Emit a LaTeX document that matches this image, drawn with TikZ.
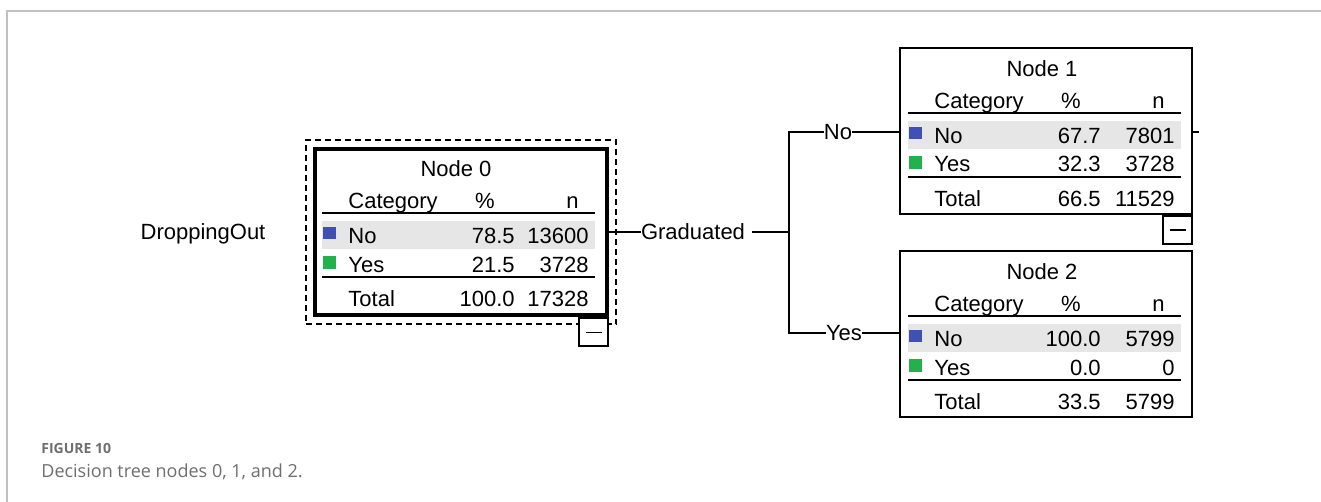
\documentclass[tikz,border=0pt]{standalone}
\usepackage{fontspec}
\setmainfont{Liberation Sans}
\newfontfamily\capfont{Open Sans}
\usetikzlibrary{positioning,fit}

\definecolor{noblue}{RGB}{63,81,181}
\definecolor{yesgreen}{RGB}{34,177,76}
\definecolor{rowgray}{RGB}{230,230,230}
\definecolor{framegray}{RGB}{192,192,192}
\definecolor{captiongray}{RGB}{110,110,110}

% one tree node: id, position, No %, No n, Yes %, Yes n, Total %, Total n, box style
\newcommand{\nodetable}[9]{%
  \node[tbox, #9] (n#1) at (#2) {};
  \begin{scope}[shift={(n#1.north west)}]
    \fill[rowgray] (9,74) rectangle (282,102);
    \fill[noblue] (10,80) rectangle (23,92);
    \fill[yesgreen] (10,109) rectangle (23,122);
    \draw[rule] (9,66) -- (282,66);
    \draw[rule] (9,130) -- (282,130);
    \node[txt, anchor=base] (n#1-title) at (143,29.5) {Node #1};
    \node[txt, anchor=base west] (n#1-cat) at (35,61.5) {Category};
    \node[txt, anchor=base] (n#1-pct) at (172,61.5) {\%};
    \node[txt, anchor=base east] (n#1-n) at (266,61.5) {n};
    \node[txt, anchor=base west] (n#1-no) at (35,96.5) {No};
    \node[txt, anchor=base east] (n#1-nopct) at (202,96.5) {#3};
    \node[txt, anchor=base east] (n#1-non) at (276,96.5) {#4};
    \node[txt, anchor=base west] (n#1-yes) at (35,125) {Yes};
    \node[txt, anchor=base east] (n#1-yespct) at (202,125) {#5};
    \node[txt, anchor=base east] (n#1-yesn) at (276,125) {#6};
    \node[txt, anchor=base west] (n#1-tot) at (35,159.5) {Total};
    \node[txt, anchor=base east] (n#1-totpct) at (202,159.5) {#7};
    \node[txt, anchor=base east] (n#1-totn) at (276,159.5) {#8};
  \end{scope}}

\begin{document}
\begin{tikzpicture}[
  x=0.5pt, y=-0.5pt,
  txt/.style={inner sep=0pt, font=\fontsize{11}{13}\selectfont},
  tbox/.style={draw, line width=1pt, minimum width=146pt, minimum height=83pt,
    anchor=north west, inner sep=0pt},
  rootbox/.style={line width=2.2pt},
  selbox/.style={draw, dash pattern=on 3pt off 2pt, line width=1pt, inner sep=3.5pt},
  minusbox/.style={draw, fill=white, line width=1pt, minimum width=14.5pt,
    minimum height=14pt, inner sep=0pt, anchor=north east},
  rule/.style={line width=1pt},
  wire/.style={line width=1pt},
  frame/.style={draw=framegray, line width=1pt},
]
  \useasboundingbox (0,0) rectangle (1321,502);
  \draw[frame] (6,11) -- (1321,11);
  \draw[frame] (7,11) -- (7,502);

  \nodetable{0}{313,147}{78.5}{13600}{21.5}{3728}{100.0}{17328}{rootbox}
  \nodetable{1}{899,47}{67.7}{7801}{32.3}{3728}{66.5}{11529}{}
  \nodetable{2}{899,250}{100.0}{5799}{0.0}{0}{33.5}{5799}{}

  \node[selbox, fit=(n0)] (sel) {};
  \node[minusbox] (m0) at (n0.south east) {\rule{8pt}{0.9pt}};
  \node[minusbox] (m1) at (n1.south east) {\rule{8pt}{0.9pt}};

  \node[txt, anchor=base] (target) at (203,240) {DroppingOut};
  \node[txt] (gradlbl) at (693,232) {Graduated};
  \node[txt] (nolbl) at (838,132) {No};
  \node[txt] (yeslbl) at (844,333) {Yes};
  \coordinate (split) at (789,232);

  \draw[wire] (n0.east |- gradlbl) -- (gradlbl.west);
  \draw[wire] ([xshift=3.5pt]gradlbl.east) -- (split);
  \draw[wire] (nolbl.west) -| (split) |- (yeslbl.west);
  \draw[wire] (nolbl.east) -- (n1.west |- nolbl);
  \draw[wire] (yeslbl.east) -- (n2.west |- yeslbl);
  \draw[wire] (n1.east |- nolbl) -- ++(3pt,0);

  \node[anchor=base west, inner sep=0pt, text=captiongray,
    font=\capfont\bfseries\fontsize{7}{9}\selectfont] (figno) at (41,453) {FIGURE 10};
  \node[anchor=base west, inner sep=0pt, text=captiongray,
    font=\capfont\fontsize{9}{11}\selectfont] (caption) at (41,477)
    {Decision tree nodes 0, 1, and 2.};
\end{tikzpicture}
\end{document}
